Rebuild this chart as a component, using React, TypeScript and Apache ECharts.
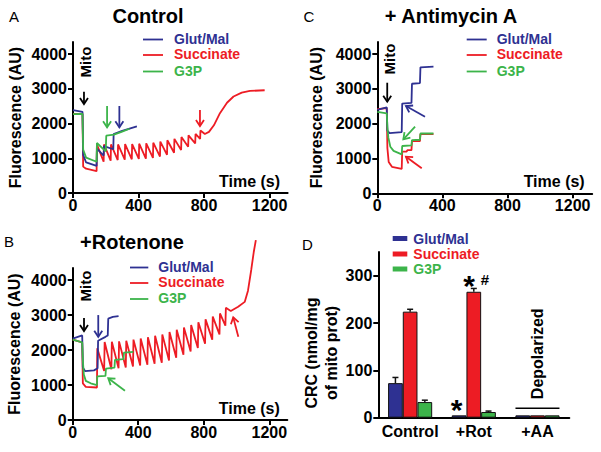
import React, { useEffect, useRef } from 'react';
import * as echarts from 'echarts';

type Pt = [number, number];

// ---------- Panel A: Control (time s, fluorescence AU) ----------
const A_GLUT: Pt[] = [[0, 2390], [58, 2340], [62, 1100], [80, 880], [144, 780], [146, 1280], [187, 1080], [189, 1350], [246, 1260], [248, 1700], [300, 1790], [390, 1920]];
const A_SUCC: Pt[] = [[0, 2280], [58, 2280], [62, 760], [80, 700], [144, 630], [146, 1400], [187, 900], [189, 1400], [230, 930], [232, 1400], [273, 950], [275, 1400], [316, 960], [318, 1410], [359, 970], [361, 1410], [402, 980], [404, 1420], [445, 990], [447, 1430], [488, 1010], [490, 1450], [531, 1050], [533, 1480], [574, 1100], [576, 1520], [617, 1160], [619, 1560], [660, 1240], [662, 1610], [703, 1330], [705, 1660], [746, 1430], [748, 1700], [776, 1560], [778, 1800], [805, 1700], [830, 1760], [860, 1950], [897, 2300], [940, 2600], [980, 2780], [1030, 2890], [1080, 2940], [1170, 2960]];
const A_G3P: Pt[] = [[0, 2270], [58, 2280], [62, 1250], [80, 1020], [144, 900], [146, 1440], [200, 1200], [203, 1650], [250, 1680], [300, 1770], [345, 1850]];

// ---------- Panel B: +Rotenone ----------
const B_GLUT: Pt[] = [[0, 2330], [58, 2420], [62, 1500], [75, 1400], [130, 1420], [152, 1480], [155, 2270], [200, 2380], [214, 2420], [217, 2900], [245, 2950], [280, 2970]];
const B_SUCC: Pt[] = [[0, 2300], [58, 2220], [62, 1050], [80, 950], [148, 930], [150, 2050], [192, 1400], [195, 2230], [236, 1450], [239, 2240], [280, 1480], [283, 2250], [324, 1500], [327, 2270], [368, 1530], [371, 2300], [412, 1560], [415, 2330], [456, 1580], [459, 2370], [500, 1610], [503, 2410], [544, 1640], [547, 2450], [588, 1700], [591, 2520], [632, 1780], [635, 2580], [676, 1870], [679, 2650], [720, 1960], [723, 2720], [764, 2060], [767, 2800], [808, 2180], [811, 2880], [852, 2300], [855, 2960], [896, 2450], [899, 3050], [932, 2700], [935, 3210], [965, 3120], [1010, 3240], [1050, 3380], [1070, 3700], [1090, 4300], [1105, 4800], [1118, 5150]];
const B_G3P: Pt[] = [[0, 2300], [58, 2220], [62, 1700], [68, 1300], [80, 1120], [110, 1050], [148, 1000], [150, 1250], [200, 1260], [203, 1470], [255, 1500], [258, 1720], [310, 1740], [313, 1930], [370, 1950]];

// ---------- Panel C: + Antimycin A ----------
const C_GLUT: Pt[] = [[0, 2400], [58, 2470], [62, 1800], [75, 1730], [150, 1760], [153, 2580], [210, 2600], [213, 3150], [262, 3170], [265, 3620], [345, 3640]];
const C_SUCC: Pt[] = [[0, 2420], [58, 2450], [62, 1300], [70, 900], [90, 760], [150, 700], [153, 1200], [180, 1200], [185, 1240], [210, 1240], [213, 1500], [262, 1500], [265, 1700], [345, 1700]];
const C_G3P: Pt[] = [[0, 2340], [58, 2300], [62, 1900], [68, 1600], [80, 1340], [100, 1220], [150, 1120], [153, 1360], [210, 1380], [213, 1530], [262, 1540], [265, 1720], [345, 1720]];

// ---------- Panel D: CRC bars ----------
const CATEGORIES = ['Control', '+Rot', '+AA'];
const GLUT_CRC = [73, 5, 5];
const GLUT_ERR = [12, 0, 0];
const SUCC_CRC = [224, 266, 5];
const SUCC_ERR = [5, 7, 0];
const G3P_CRC = [33, 12, 5];
const G3P_ERR = [4, 2, 0];

const SERIES_NAMES = ['Glut/Mal', 'Succinate', 'G3P'];
const Y_TICKS = [0, 1000, 2000, 3000, 4000];
const X_TICKS = [0, 400, 800, 1200];
const CRC_TICKS = [0, 100, 200, 300];

// ---------- styles ----------
const COLORS = ['#2e3192', '#ed1c24', '#3cb44a'];
const FONT = '"Liberation Sans", Arial, Helvetica, sans-serif';
const BAR_W = 14.7;
const LEG_FS = 14;

const bold = (size: number, color = '#000') => ({ fontFamily: FONT, fontSize: size, fontWeight: 'bold' as const, color });
const plain = (v: number) => String(v);

function xAxisCfg(gi: number, max: number) {
  return {
    type: 'value', gridIndex: gi, min: 0, max, interval: 400,
    name: 'Time (s)', nameLocation: 'end', nameGap: -7.5,
    nameTextStyle: { ...bold(16), align: 'right', verticalAlign: 'bottom', padding: [0, 0, 4, 0] },
    axisLine: { show: true, onZero: false, lineStyle: { color: '#000', width: 2 } },
    axisTick: { show: true, length: 5, customValues: X_TICKS, lineStyle: { color: '#000', width: 2 } },
    axisLabel: { ...bold(16), margin: 4, customValues: X_TICKS, formatter: plain },
    splitLine: { show: false },
  };
}
function yAxisCfg(gi: number, gap: number) {
  return {
    type: 'value', gridIndex: gi, min: 0, max: 4350,
    name: 'Fluorescence (AU)', nameLocation: 'middle', nameGap: gap,
    nameTextStyle: bold(16),
    axisLine: { show: true, onZero: false, lineStyle: { color: '#000', width: 2 } },
    axisTick: { show: true, length: 5, customValues: Y_TICKS, lineStyle: { color: '#000', width: 2 } },
    axisLabel: { ...bold(16), margin: 6, customValues: Y_TICKS, formatter: plain },
    splitLine: { show: false },
  };
}
function lineSeries(gi: number, idx: number, data: Pt[]) {
  return {
    type: 'line', name: SERIES_NAMES[idx], xAxisIndex: gi, yAxisIndex: gi, data,
    showSymbol: false, symbol: 'none', clip: false, silent: true,
    lineStyle: { color: COLORS[idx], width: 1.8 }, itemStyle: { color: COLORS[idx] },
    z: idx === 1 ? 2 : 3,
  };
}

// annotation arrows in data coordinates
const ARROWS: { g: number; from: Pt; to: Pt; c: string }[] = [
  { g: 0, from: [67, 2917], to: [67, 2563], c: '#000' },
  { g: 0, from: [208, 2506], to: [208, 1892], c: COLORS[2] },
  { g: 0, from: [283, 2506], to: [283, 1892], c: COLORS[0] },
  { g: 0, from: [775, 2390], to: [775, 1930], c: COLORS[1] },
  { g: 1, from: [69, 2917], to: [69, 2545], c: '#000' },
  { g: 1, from: [156, 3003], to: [156, 2382], c: COLORS[0] },
  { g: 1, from: [319, 838], to: [217, 1193], c: COLORS[2] },
  { g: 1, from: [1011, 2382], to: [980, 2937], c: COLORS[1] },
  { g: 2, from: [61, 3179], to: [61, 2633], c: '#000' },
  { g: 2, from: [293, 2201], to: [176, 2509], c: COLORS[0] },
  { g: 2, from: [232, 1914], to: [160, 1552], c: COLORS[2] },
  { g: 2, from: [273, 718], to: [176, 1052], c: COLORS[1] },
];
const MITO: { g: number; at: Pt }[] = [
  { g: 0, at: [79, 3773] },
  { g: 1, at: [81, 3832] },
  { g: 2, at: [74, 3860] },
];

export default function App() {
  const ref = useRef<HTMLDivElement>(null);
  useEffect(() => {
    if (!ref.current) return;
    const chart = echarts.init(ref.current, undefined, { renderer: 'svg' });

    const barSeries = [GLUT_CRC, SUCC_CRC, G3P_CRC].map((vals, k) => ({
      type: 'bar', name: SERIES_NAMES[k], xAxisIndex: 3, yAxisIndex: 3, data: vals,
      barWidth: BAR_W, barGap: '0%', silent: true,
      itemStyle: { color: COLORS[k], borderColor: '#111', borderWidth: 1 },
    }));
    const errData: number[][] = [];
    [GLUT_ERR, SUCC_ERR, G3P_ERR].forEach((errs, k) => {
      const vals = [GLUT_CRC, SUCC_CRC, G3P_CRC][k];
      errs.forEach((e, c) => errData.push([c, vals[c], e, k]));
    });

    const option: any = {
      animation: false,
      grid: [
        { left: 73, top: 42, width: 214.6, height: 151 },
        { left: 72.7, top: 268, width: 214.6, height: 152 },
        { left: 377.3, top: 42, width: 214.9, height: 151.3 },
        { left: 378.3, top: 252, width: 191, height: 165.7 },
      ],
      xAxis: [
        xAxisCfg(0, 1310), xAxisCfg(1, 1310), xAxisCfg(2, 1320),
        {
          type: 'category', gridIndex: 3, data: CATEGORIES,
          axisLine: { show: true, lineStyle: { color: '#000', width: 2 } },
          axisTick: { show: false },
          axisLabel: { ...bold(16), margin: 6, interval: 0, hideOverlap: false },
        },
      ],
      yAxis: [
        yAxisCfg(0, 50), yAxisCfg(1, 50), yAxisCfg(2, 53),
        {
          type: 'value', gridIndex: 3, min: 0, max: 350,
          axisLine: { show: true, lineStyle: { color: '#000', width: 2 } },
          axisTick: { show: true, length: 5, customValues: CRC_TICKS, lineStyle: { color: '#000', width: 2 } },
          axisLabel: { ...bold(16), margin: 6, customValues: CRC_TICKS, formatter: plain },
          splitLine: { show: false },
        },
      ],
      series: [
        lineSeries(0, 1, A_SUCC), lineSeries(0, 0, A_GLUT), lineSeries(0, 2, A_G3P),
        lineSeries(1, 1, B_SUCC), lineSeries(1, 0, B_GLUT), lineSeries(1, 2, B_G3P),
        lineSeries(2, 1, C_SUCC), lineSeries(2, 0, C_GLUT), lineSeries(2, 2, C_G3P),
        ...barSeries,
        {
          type: 'custom', xAxisIndex: 3, yAxisIndex: 3, data: errData, silent: true, z: 5,
          encode: { x: 0, y: 1 },
          renderItem: (_p: any, api: any) => {
            const c = api.value(0), v = api.value(1), e = api.value(2), k = api.value(3);
            if (!e) return null;
            const base = api.coord([c, v]);
            const top = api.coord([c, v + e]);
            const x = base[0] + (k - 1) * BAR_W;
            const st = { stroke: '#111', lineWidth: 1.5 };
            return {
              type: 'group', children: [
                { type: 'line', shape: { x1: x, y1: base[1], x2: x, y2: top[1] }, style: st },
                { type: 'line', shape: { x1: x - 3, y1: top[1], x2: x + 3, y2: top[1] }, style: st },
              ],
            };
          },
        },
      ],
    };
    chart.setOption(option);

    const P = (g: number, pt: (number | string)[]) => chart.convertToPixel({ gridIndex: g } as any, pt as any) as unknown as number[];
    const els: any[] = [];
    const txt = (x: number, y: number, text: string, style: any, rotation = 0) =>
      els.push({ type: 'text', x, y, rotation, silent: true, style: { text, align: 'center', verticalAlign: 'middle', ...style, fill: style.color || '#000' } });

    // panel letters and titles
    txt(14, 16, 'A', { fontFamily: FONT, fontSize: 15, color: '#000' });
    txt(148, 16, 'Control', { ...bold(20) });
    txt(309, 16, 'C', { fontFamily: FONT, fontSize: 15, color: '#000' });
    txt(451, 15.5, '+ Antimycin A', { ...bold(20) });
    txt(9, 241, 'B', { fontFamily: FONT, fontSize: 15, color: '#000' });
    txt(132, 241.5, '+Rotenone', { ...bold(20) });
    txt(307.5, 244, 'D', { fontFamily: FONT, fontSize: 15, color: '#000' });

    // line legends
    const legendLine = (x1: number, x2: number, tx: number, ys: number[]) => {
      ys.forEach((y, k) => {
        els.push({ type: 'line', silent: true, shape: { x1, y1: y + 1, x2, y2: y + 1 }, style: { stroke: COLORS[k], lineWidth: 1.8 } });
        els.push({ type: 'text', x: tx, y, silent: true, style: { text: SERIES_NAMES[k], align: 'left', verticalAlign: 'middle', ...bold(LEG_FS), lineHeight: 14, fill: COLORS[k] } });
      });
    };
    legendLine(143, 163, 174, [38.5, 54, 70.5]);
    legendLine(130, 148.3, 158.3, [266.5, 282, 298]);
    legendLine(466.7, 486.7, 496.7, [38.5, 54, 70.5]);
    // bar legend
    [238.5, 254, 269].forEach((y, k) => {
      els.push({ type: 'rect', silent: true, shape: { x: 392.7, y: y - 2.5, width: 14.6, height: 5 }, style: { fill: COLORS[k] } });
      els.push({ type: 'text', x: 413.3, y, silent: true, style: { text: SERIES_NAMES[k], align: 'left', verticalAlign: 'middle', ...bold(LEG_FS), lineHeight: 14, fill: COLORS[k] } });
    });

    // arrows
    ARROWS.forEach(({ g, from, to, c }) => {
      const p0 = P(g, from), p1 = P(g, to);
      const dx = p1[0] - p0[0], dy = p1[1] - p0[1];
      const len = Math.hypot(dx, dy) || 1;
      const ux = dx / len, uy = dy / len;
      const hl = 6, hw = 4;
      const a = [p1[0] - ux * hl - uy * hw, p1[1] - uy * hl + ux * hw];
      const b = [p1[0] - ux * hl + uy * hw, p1[1] - uy * hl - ux * hw];
      els.push({ type: 'line', silent: true, shape: { x1: p0[0], y1: p0[1], x2: p1[0], y2: p1[1] }, style: { stroke: c, lineWidth: 1.8 } });
      els.push({ type: 'polyline', silent: true, shape: { points: [a, p1, b] }, style: { stroke: c, lineWidth: 1.8, fill: null } });
    });
    MITO.forEach(({ g, at }) => {
      const p = P(g, at);
      txt(p[0], p[1], 'Mito', { ...bold(15) }, Math.PI / 2);
    });

    // panel D annotations
    const pGlutRot = P(3, [1, 31]);
    txt(pGlutRot[0] - BAR_W - 2.4, pGlutRot[1] + 6, '*', { ...bold(30) });
    const pSuccRot = P(3, [1, 291]);
    txt(pSuccRot[0] - 4.6, pSuccRot[1] + 6, '*', { ...bold(30) });
    txt(pSuccRot[0] + 11.2, pSuccRot[1], '#', { ...bold(15) });
    const pDep = P(3, [2, 135]);
    txt(pDep[0], pDep[1], 'Depolarized', { ...bold(16) }, Math.PI / 2);
    const pLine = P(3, [2, 20]);
    els.push({ type: 'line', silent: true, shape: { x1: pLine[0] - 22, y1: pLine[1], x2: pLine[0] + 22, y2: pLine[1] }, style: { stroke: '#000', lineWidth: 1.5 } });
    txt(321.5, 353, 'CRC (nmol/mg\nof mito prot)', { ...bold(16), lineHeight: 20 }, Math.PI / 2);

    chart.setOption({ graphic: { elements: els } });
    return () => chart.dispose();
  }, []);
  return <div ref={ref} style={{ position: 'absolute', left: 0, top: 0, width: 601, height: 452, background: '#fff' }} />;
}
